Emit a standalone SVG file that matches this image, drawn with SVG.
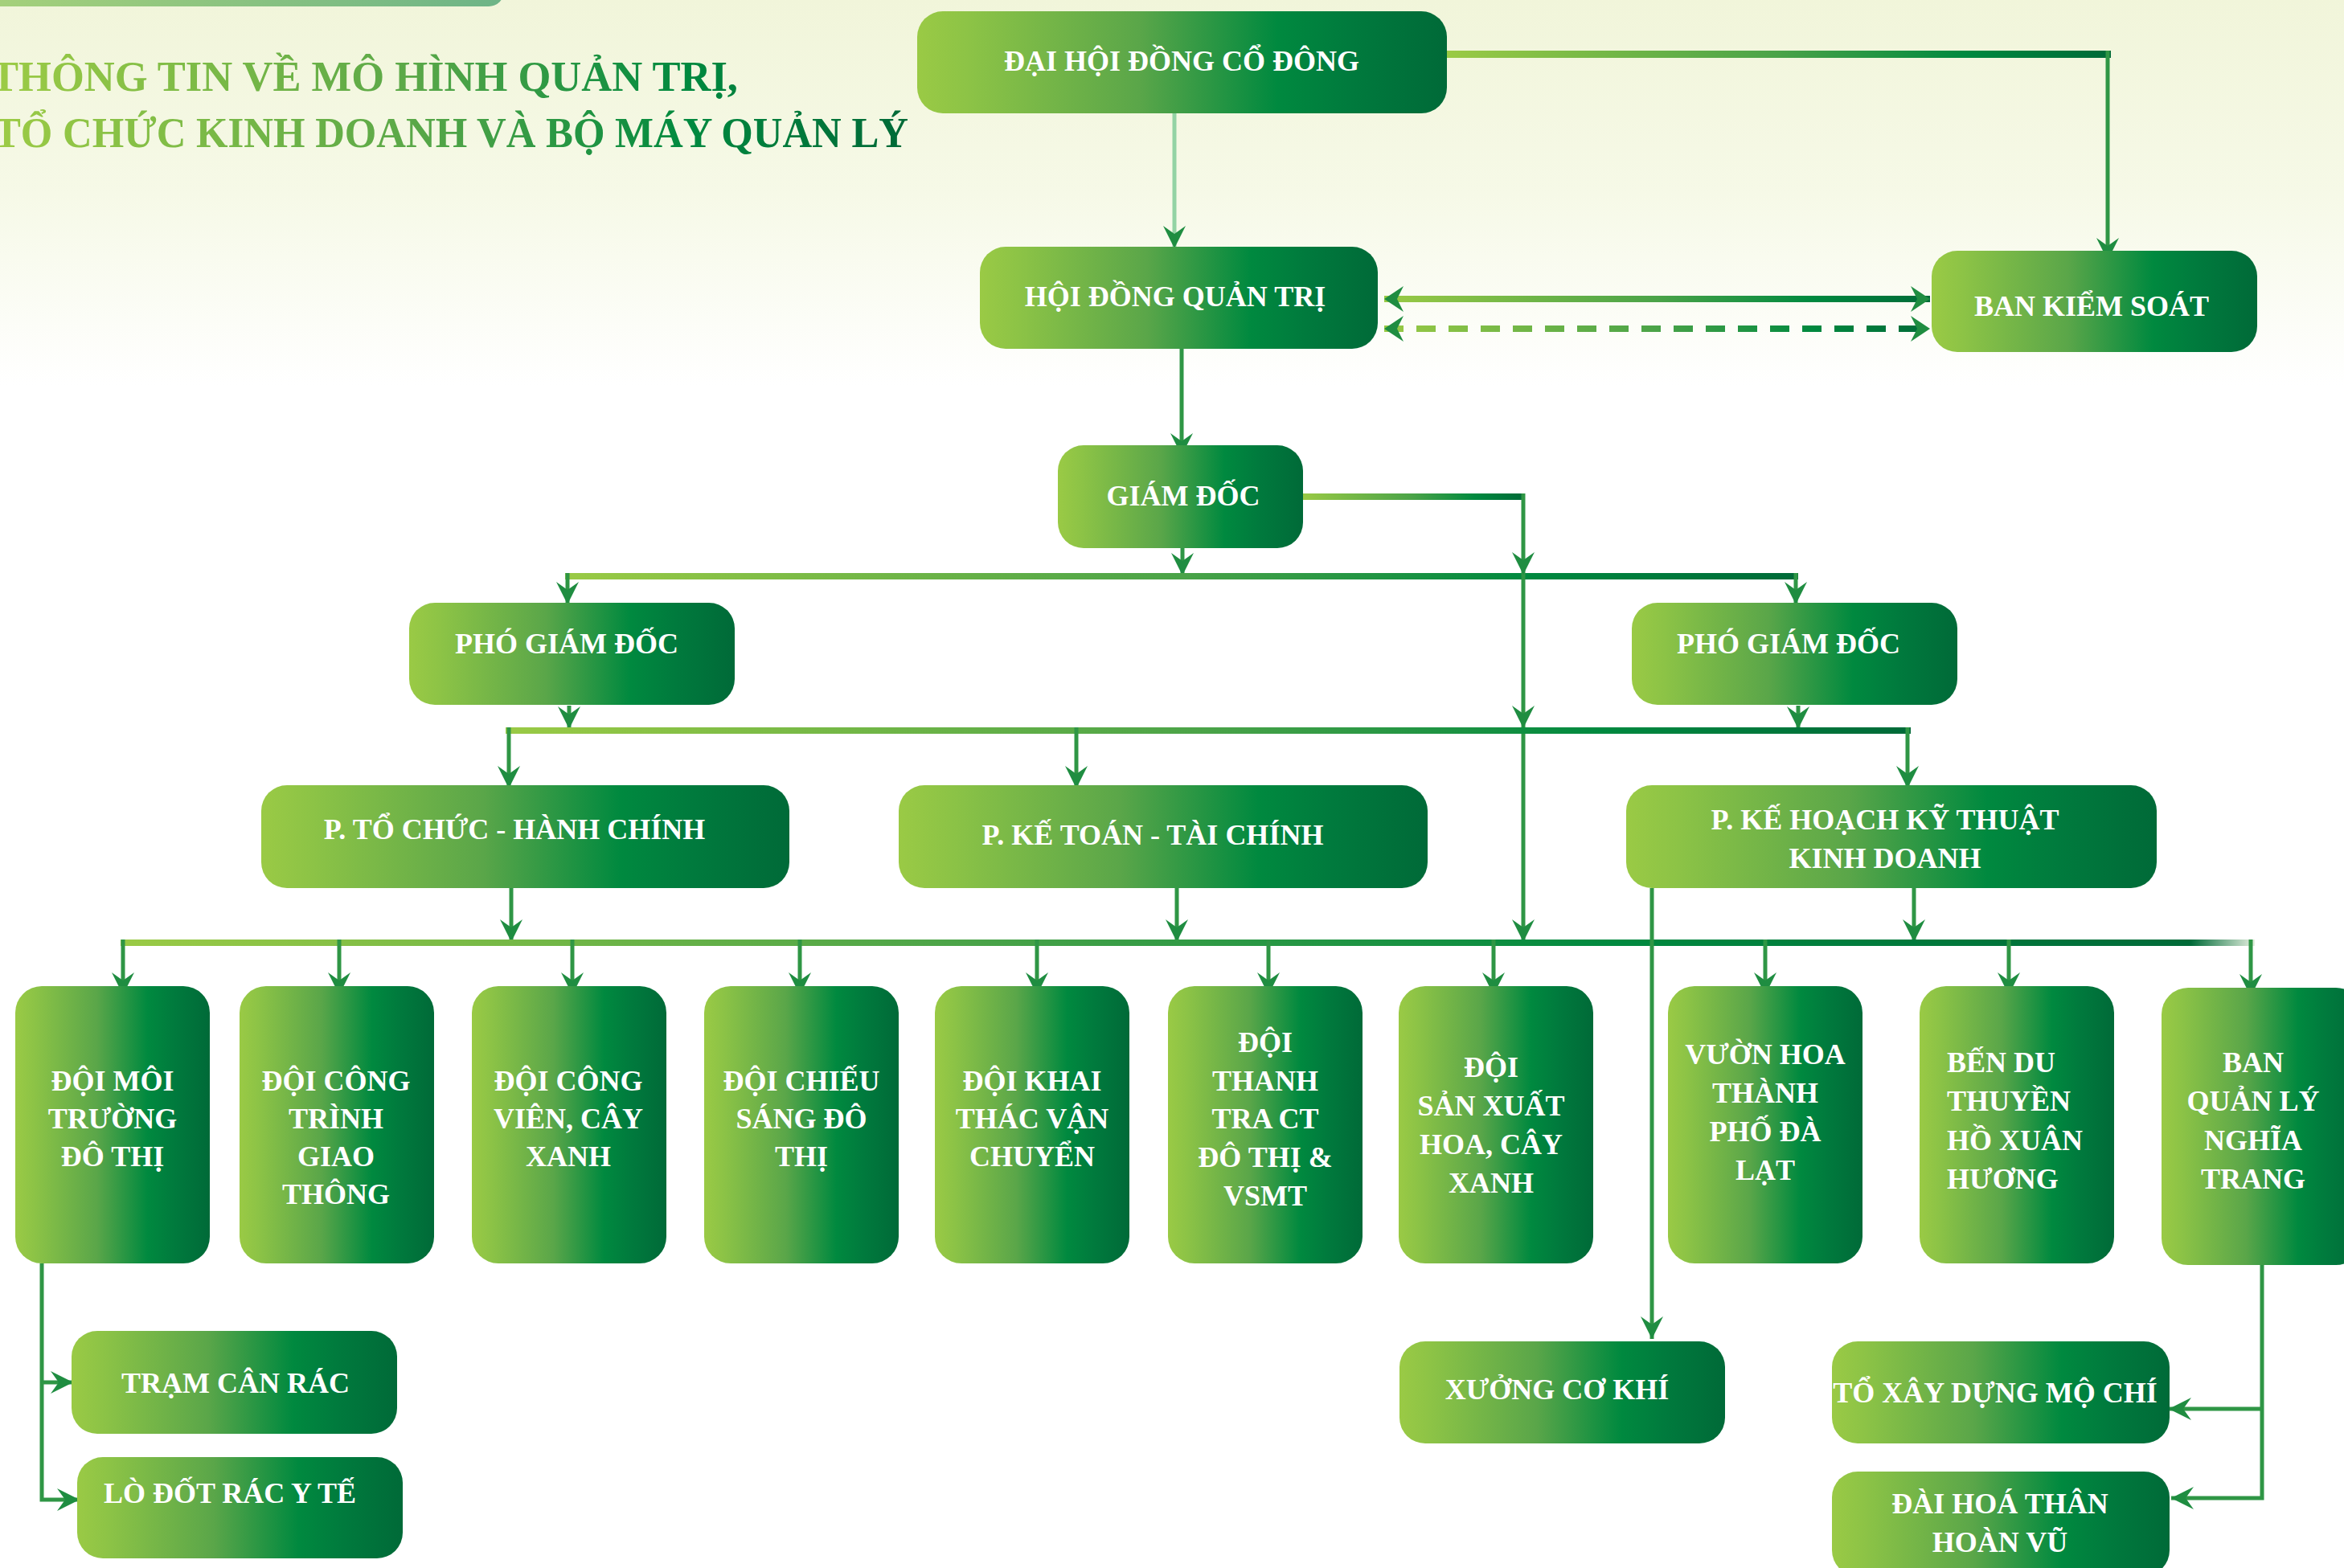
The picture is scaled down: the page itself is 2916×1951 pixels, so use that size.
<svg xmlns="http://www.w3.org/2000/svg" width="2916" height="1951" viewBox="0 0 2916 1951">
<defs>
<linearGradient id="bg" x1="0" y1="0" x2="0" y2="1">
<stop offset="0" stop-color="#f1f5da"/>
<stop offset="0.5" stop-color="#f6f9e7"/>
<stop offset="1" stop-color="#ffffff"/>
</linearGradient>
<linearGradient id="g" x1="0" y1="0" x2="1" y2="0">
<stop offset="0" stop-color="#9aca45"/>
<stop offset="0.1" stop-color="#8cc346"/>
<stop offset="0.42" stop-color="#5aa649"/>
<stop offset="0.68" stop-color="#00893f"/>
<stop offset="0.82" stop-color="#007a3d"/>
<stop offset="1" stop-color="#006a38"/>
</linearGradient>
<linearGradient id="bar" x1="0" y1="0" x2="1" y2="0">
<stop offset="0" stop-color="#9aca45"/>
<stop offset="0.5" stop-color="#4aa348"/>
<stop offset="0.78" stop-color="#00893f"/>
<stop offset="1" stop-color="#006a38"/>
</linearGradient>
<linearGradient id="tbar" x1="0" y1="0" x2="1" y2="0">
<stop offset="0" stop-color="#9aca45"/>
<stop offset="0.4" stop-color="#4aa348"/>
<stop offset="0.7" stop-color="#00893f"/>
<stop offset="0.97" stop-color="#006a38"/>
<stop offset="1" stop-color="#e6f0e0"/>
</linearGradient>
<linearGradient id="hb" gradientUnits="userSpaceOnUse" x1="1720" y1="0" x2="2405" y2="0">
<stop offset="0" stop-color="#9aca45"/>
<stop offset="0.5" stop-color="#4aa348"/>
<stop offset="0.78" stop-color="#00893f"/>
<stop offset="1" stop-color="#006a38"/>
</linearGradient>
<linearGradient id="tg" gradientUnits="userSpaceOnUse" x1="0" y1="0" x2="1140" y2="0">
<stop offset="0" stop-color="#9ccb45"/>
<stop offset="0.45" stop-color="#5aa848"/>
<stop offset="0.75" stop-color="#00893f"/>
<stop offset="1" stop-color="#006837"/>
</linearGradient>
<linearGradient id="ban" x1="0" y1="0" x2="1" y2="0">
<stop offset="0" stop-color="#a8d27a"/>
<stop offset="1" stop-color="#6db487"/>
</linearGradient>
<marker id="ah" viewBox="-30 -16 32 32" refX="0" refY="0" markerWidth="32" markerHeight="32" markerUnits="userSpaceOnUse" orient="auto">
<path d="M0,0 L-28,-14 L-18,0 L-28,14 Z" fill="#1f8d41"/>
</marker>
<marker id="ah2" viewBox="-30 -18 32 36" refX="0" refY="0" markerWidth="32" markerHeight="36" markerUnits="userSpaceOnUse" orient="auto-start-reverse">
<path d="M0,0 L-24,-16 L-16,0 L-24,16 Z" fill="#1f8d41"/>
</marker>
</defs>
<style>
.n{fill:url(#g)}
.t{font-family:"Liberation Serif","DejaVu Serif",serif;font-weight:bold;font-size:36px;fill:#fff;text-anchor:middle}
.tl{text-anchor:start}
.ln{stroke:#2f9645;stroke-width:5;fill:none}
.a{marker-end:url(#ah)}
.title{font-family:"Liberation Serif","DejaVu Serif",serif;font-weight:bold;font-size:52px;fill:url(#tg)}
</style>

<rect width="2916" height="1951" fill="#ffffff"/>
<rect width="2916" height="480" fill="url(#bg)"/>
<rect x="-40" y="-30" width="667" height="38" rx="19" fill="url(#ban)"/>

<g id="title">
<text class="title" x="-12" y="113" textLength="930" lengthAdjust="spacingAndGlyphs">THÔNG TIN VỀ MÔ HÌNH QUẢN TRỊ,</text>
<text class="title" x="-8" y="183" textLength="1138" lengthAdjust="spacingAndGlyphs">TỔ CHỨC KINH DOANH VÀ BỘ MÁY QUẢN LÝ</text>
</g>

<g id="connectors">
<line x1="1461" y1="127" x2="1461" y2="309" stroke="#93d3a4" stroke-width="5" class="a"/>
<rect x="1800" y="63" width="826" height="9" fill="url(#bar)"/>
<line class="ln a" x1="2622" y1="63" x2="2622" y2="324"/>
<line x1="1722" y1="372" x2="2401" y2="372" stroke="url(#hb)" stroke-width="8" marker-start="url(#ah2)" marker-end="url(#ah2)"/>
<line x1="1722" y1="409" x2="2401" y2="409" stroke="url(#hb)" stroke-width="8" stroke-dasharray="24 16" marker-start="url(#ah2)" marker-end="url(#ah2)"/>
<line class="ln a" x1="1470" y1="413" x2="1470" y2="567"/>
<rect x="1618" y="614" width="279" height="8" fill="url(#bar)"/>
<line class="ln a" x1="1471" y1="682" x2="1471" y2="716"/>
<rect x="703" y="713" width="1534" height="8" fill="url(#bar)"/>
<line class="ln a" x1="706" y1="713" x2="706" y2="752"/>
<line class="ln a" x1="2234" y1="713" x2="2234" y2="752"/>
<line class="ln a" x1="1895" y1="614" x2="1895" y2="715"/>
<line class="ln a" x1="1895" y1="715" x2="1895" y2="906"/>
<line class="ln a" x1="1895" y1="906" x2="1895" y2="1172"/>
<line class="ln a" x1="708" y1="878" x2="708" y2="907"/>
<line class="ln a" x1="2237" y1="878" x2="2237" y2="907"/>
<rect x="629" y="905" width="1748" height="8" fill="url(#bar)"/>
<line class="ln a" x1="633" y1="905" x2="633" y2="981"/>
<line class="ln a" x1="1339" y1="905" x2="1339" y2="981"/>
<line class="ln a" x1="2373" y1="905" x2="2373" y2="981"/>
<line class="ln a" x1="636" y1="1105" x2="636" y2="1172"/>
<line class="ln a" x1="1464" y1="1105" x2="1464" y2="1172"/>
<line class="ln a" x1="2381" y1="1105" x2="2381" y2="1172"/>
<rect x="150" y="1169" width="2655" height="8" fill="url(#tbar)"/>
<line class="ln a" x1="153" y1="1169" x2="153" y2="1238"/>
<line class="ln a" x1="422" y1="1169" x2="422" y2="1238"/>
<line class="ln a" x1="712" y1="1169" x2="712" y2="1238"/>
<line class="ln a" x1="995" y1="1169" x2="995" y2="1238"/>
<line class="ln a" x1="1290" y1="1169" x2="1290" y2="1238"/>
<line class="ln a" x1="1578" y1="1169" x2="1578" y2="1238"/>
<line class="ln a" x1="1858" y1="1169" x2="1858" y2="1238"/>
<line class="ln a" x1="2196" y1="1169" x2="2196" y2="1238"/>
<line class="ln a" x1="2499" y1="1169" x2="2499" y2="1238"/>
<line class="ln a" x1="2800" y1="1169" x2="2800" y2="1240"/>
<line class="ln a" x1="2055" y1="1105" x2="2055" y2="1666"/>
<path class="ln a" d="M52,1572 V1866 H99" stroke-width="7"/>
<path class="ln a" d="M52,1720 H91" stroke-width="7"/>
<path class="ln a" d="M2814,1574 V1864 H2701" stroke-width="7"/>
<path class="ln a" d="M2814,1753 H2698" stroke-width="7"/>
</g>

<g id="n-dhdcd"><rect class="n" x="1141" y="14" width="659" height="127" rx="32"/><text class="t" x="1470" y="88">ĐẠI HỘI ĐỒNG CỔ ĐÔNG</text></g>
<g id="n-hdqt"><rect class="n" x="1219" y="307" width="495" height="127" rx="32"/><text class="t" x="1462" y="381">HỘI ĐỒNG QUẢN TRỊ</text></g>
<g id="n-bks"><rect class="n" x="2403" y="312" width="405" height="126" rx="32"/><text class="t" x="2602" y="393">BAN KIỂM SOÁT</text></g>
<g id="n-gd"><rect class="n" x="1316" y="554" width="305" height="128" rx="32"/><text class="t" x="1472" y="629">GIÁM ĐỐC</text></g>
<g id="n-pgd1"><rect class="n" x="509" y="750" width="405" height="127" rx="32"/><text class="t" x="705" y="813">PHÓ GIÁM ĐỐC</text></g>
<g id="n-pgd2"><rect class="n" x="2030" y="750" width="405" height="127" rx="32"/><text class="t" x="2225" y="813">PHÓ GIÁM ĐỐC</text></g>
<g id="n-ptchc"><rect class="n" x="325" y="977" width="657" height="128" rx="32"/><text class="t" x="640" y="1044">P. TỔ CHỨC - HÀNH CHÍNH</text></g>
<g id="n-pkttc"><rect class="n" x="1118" y="977" width="658" height="128" rx="32"/><text class="t" x="1434" y="1051">P. KẾ TOÁN - TÀI CHÍNH</text></g>
<g id="n-pkhkt"><rect class="n" x="2023" y="977" width="660" height="128" rx="32"/><text class="t" x="2345" y="1032">P. KẾ HOẠCH KỸ THUẬT</text><text class="t" x="2345" y="1080">KINH DOANH</text></g>

<g id="n-doi1"><rect class="n" x="19" y="1227" width="242" height="345" rx="33"/><text class="t" x="140" y="1357">ĐỘI MÔI</text><text class="t" x="140" y="1404">TRƯỜNG</text><text class="t" x="140" y="1451">ĐÔ THỊ</text></g>
<g id="n-doi2"><rect class="n" x="298" y="1227" width="242" height="345" rx="33"/><text class="t" x="418" y="1357">ĐỘI CÔNG</text><text class="t" x="418" y="1404">TRÌNH</text><text class="t" x="418" y="1451">GIAO</text><text class="t" x="418" y="1498">THÔNG</text></g>
<g id="n-doi3"><rect class="n" x="587" y="1227" width="242" height="345" rx="33"/><text class="t" x="707" y="1357">ĐỘI CÔNG</text><text class="t" x="707" y="1404">VIÊN, CÂY</text><text class="t" x="707" y="1451">XANH</text></g>
<g id="n-doi4"><rect class="n" x="876" y="1227" width="242" height="345" rx="33"/><text class="t" x="997" y="1357">ĐỘI CHIẾU</text><text class="t" x="997" y="1404">SÁNG ĐÔ</text><text class="t" x="997" y="1451">THỊ</text></g>
<g id="n-doi5"><rect class="n" x="1163" y="1227" width="242" height="345" rx="33"/><text class="t" x="1284" y="1357">ĐỘI KHAI</text><text class="t" x="1284" y="1404">THÁC VẬN</text><text class="t" x="1284" y="1451">CHUYỂN</text></g>
<g id="n-doi6"><rect class="n" x="1453" y="1227" width="242" height="345" rx="33"/><text class="t" x="1574" y="1309">ĐỘI</text><text class="t" x="1574" y="1357">THANH</text><text class="t" x="1574" y="1404">TRA CT</text><text class="t" x="1574" y="1452">ĐÔ THỊ &amp;</text><text class="t" x="1574" y="1500">VSMT</text></g>
<g id="n-doi7"><rect class="n" x="1740" y="1227" width="242" height="345" rx="33"/><text class="t" x="1855" y="1340">ĐỘI</text><text class="t" x="1855" y="1388">SẢN XUẤT</text><text class="t" x="1855" y="1436">HOA, CÂY</text><text class="t" x="1855" y="1484">XANH</text></g>
<g id="n-vuonhoa"><rect class="n" x="2075" y="1227" width="242" height="345" rx="33"/><text class="t" x="2196" y="1324">VƯỜN HOA</text><text class="t" x="2196" y="1372">THÀNH</text><text class="t" x="2196" y="1420">PHỐ ĐÀ</text><text class="t" x="2196" y="1468">LẠT</text></g>
<g id="n-bendu"><rect class="n" x="2388" y="1227" width="242" height="345" rx="33"/><text class="t tl" x="2422" y="1334">BẾN DU</text><text class="t tl" x="2422" y="1382">THUYỀN</text><text class="t tl" x="2422" y="1431">HỒ XUÂN</text><text class="t tl" x="2422" y="1479">HƯƠNG</text></g>
<g id="n-banql"><rect class="n" x="2689" y="1229" width="250" height="345" rx="33"/><text class="t" x="2803" y="1334">BAN</text><text class="t" x="2803" y="1382">QUẢN LÝ</text><text class="t" x="2803" y="1431">NGHĨA</text><text class="t" x="2803" y="1479">TRANG</text></g>

<g id="n-tram"><rect class="n" x="89" y="1656" width="405" height="128" rx="32"/><text class="t" x="293" y="1733">TRẠM CÂN RÁC</text></g>
<g id="n-lo"><rect class="n" x="96" y="1813" width="405" height="126" rx="32"/><text class="t" x="286" y="1870">LÒ ĐỐT RÁC Y TẾ</text></g>
<g id="n-xuong"><rect class="n" x="1741" y="1669" width="405" height="127" rx="32"/><text class="t" x="1937" y="1741">XƯỞNG CƠ KHÍ</text></g>
<g id="n-toxay"><rect class="n" x="2279" y="1669" width="420" height="127" rx="32"/><text class="t" x="2482" y="1745">TỔ XÂY DỰNG MỘ CHÍ</text></g>
<g id="n-dai"><rect class="n" x="2279" y="1831" width="420" height="130" rx="32"/><text class="t" x="2488" y="1883">ĐÀI HOÁ THÂN</text><text class="t" x="2488" y="1931">HOÀN VŨ</text></g>
</svg>
